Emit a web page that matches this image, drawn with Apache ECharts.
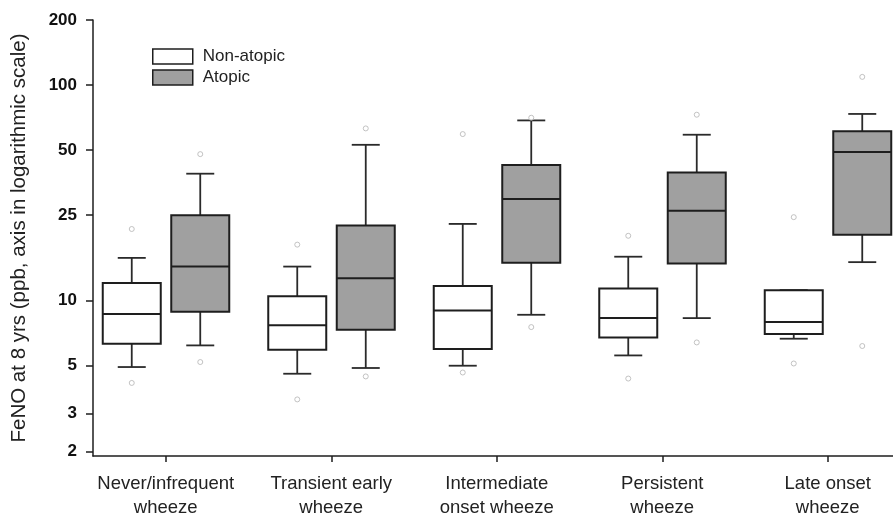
<!DOCTYPE html>
<html>
<head>
<meta charset="utf-8">
<script src="https://cdn.jsdelivr.net/npm/echarts@6/dist/echarts.min.js"></script>
<style>
  html, body { margin: 0; padding: 0; background: #fff; }
  #main { width: 893px; height: 515px; }
</style>
</head>
<body>
<div id="main"></div>
<script>
var categories = [
  'Never/infrequent\nwheeze',
  'Transient early\nwheeze',
  'Intermediate\nonset wheeze',
  'Persistent\nwheeze',
  'Late onset\nwheeze'
];
var yTicks = [2, 3, 5, 10, 25, 50, 100, 200];

// [lower whisker, q1, median, q3, upper whisker]
var nonAtopicBoxes = [
  [4.93, 6.32, 8.68, 12.1, 15.8],
  [4.59, 5.93, 7.69, 10.5, 14.4],
  [5.00, 5.97, 9.02, 11.7, 22.7],
  [5.58, 6.76, 8.31, 11.4, 16.0],
  [6.67, 7.01, 7.97, 11.2, 11.2]
];
var atopicBoxes = [
  [6.21, 8.89, 14.4, 24.9, 38.8],
  [4.88, 7.34, 12.7, 22.3, 52.8],
  [8.61, 15.0, 29.6, 42.6, 68.5],
  [8.31, 14.9, 26.1, 39.3, 58.8],
  [15.1, 20.2, 48.9, 61.0, 73.4]
];
// [category index, value]
var nonAtopicOutliers = [
  [0, 21.5], [0, 4.16], [1, 18.2], [1, 3.49], [2, 59.2],
  [2, 4.65], [3, 20.0], [3, 4.36], [4, 24.4], [4, 5.12]
];
var atopicOutliers = [
  [0, 47.8], [0, 5.20], [1, 62.9], [1, 4.46], [2, 70.5],
  [2, 7.55], [3, 72.8], [3, 6.41], [4, 109], [4, 6.17]
];

var font = 'Arial, "Liberation Sans", sans-serif';
var ink = '#1e1e1e';

function boxRenderer(offset, fill) {
  return function (params, api) {
    var c = api.value(0);
    var x = api.coord([c, api.value(3)])[0] + offset;
    var lo = api.coord([c, api.value(1)])[1];
    var q1 = api.coord([c, api.value(2)])[1];
    var med = api.coord([c, api.value(3)])[1];
    var q3 = api.coord([c, api.value(4)])[1];
    var hi = api.coord([c, api.value(5)])[1];
    var half = 29, cap = 14;
    var ws = { stroke: '#2a2a2a', lineWidth: 1.8 };
    return {
      type: 'group',
      children: [
        { type: 'line', shape: { x1: x, y1: hi, x2: x, y2: q3 }, style: ws },
        { type: 'line', shape: { x1: x, y1: q1, x2: x, y2: lo }, style: ws },
        { type: 'line', shape: { x1: x - cap, y1: hi, x2: x + cap, y2: hi }, style: ws },
        { type: 'line', shape: { x1: x - cap, y1: lo, x2: x + cap, y2: lo }, style: ws },
        { type: 'rect', shape: { x: x - half, y: q3, width: half * 2, height: q1 - q3 },
          style: { fill: fill, stroke: ink, lineWidth: 2 } },
        { type: 'line', shape: { x1: x - half, y1: med, x2: x + half, y2: med },
          style: { stroke: ink, lineWidth: 2 } }
      ]
    };
  };
}

function withIndex(boxes) {
  return boxes.map(function (b, i) { return [i].concat(b); });
}

var chart = echarts.init(document.getElementById('main'));
var option = {
  animation: false,
  backgroundColor: '#fff',
  textStyle: { fontFamily: font },
  legend: {
    orient: 'vertical',
    left: 147,
    top: 43,
    itemWidth: 40,
    itemHeight: 15,
    itemGap: 4,
    textStyle: { fontSize: 17, color: '#222', padding: [0, 0, 0, 5] },
    data: [
      { name: 'Non-atopic', icon: 'rect', itemStyle: { color: '#fff', borderColor: ink, borderWidth: 1.5 } },
      { name: 'Atopic', icon: 'rect', itemStyle: { color: '#a0a0a0', borderColor: ink, borderWidth: 1.5 } }
    ]
  },
  grid: [
    { left: 93, right: 0, top: 20, bottom: 59, outerBoundsMode: 'none' },
    { left: 83, width: 827.5, top: 20, bottom: 59, outerBoundsMode: 'none' }
  ],
  xAxis: [
    {
      gridIndex: 0, type: 'value', min: 0, max: 1,
      axisLine: { lineStyle: { color: ink, width: 1.5 } },
      axisTick: { show: false }, axisLabel: { show: false }, splitLine: { show: false }
    },
    {
      gridIndex: 1, type: 'category', data: categories,
      axisLine: { show: false },
      axisTick: { show: true, alignWithLabel: true, length: 6, lineStyle: { color: ink, width: 1.5 } },
      axisLabel: { interval: 0, margin: 16, fontSize: 18.5, lineHeight: 24, color: '#222' },
      splitLine: { show: false }
    }
  ],
  yAxis: [
    {
      gridIndex: 0, type: 'log', min: 1.908, max: 200,
      name: 'FeNO at 8 yrs (ppb, axis in logarithmic scale)',
      nameLocation: 'middle', nameGap: 63,
      nameTextStyle: { fontSize: 20.5, color: '#222' },
      axisLine: { show: true, lineStyle: { color: ink, width: 1.5 } },
      axisTick: { show: true, length: 7, customValues: yTicks, lineStyle: { color: ink, width: 1.5 } },
      axisLabel: { customValues: yTicks, margin: 16, fontSize: 17, fontWeight: 'bold', color: '#111' },
      splitLine: { show: false }
    },
    {
      gridIndex: 1, type: 'log', min: 1.908, max: 200, show: false,
      splitLine: { show: false }
    }
  ],
  series: [
    {
      name: 'Non-atopic', type: 'custom', xAxisIndex: 1, yAxisIndex: 1,
      renderItem: boxRenderer(-34, '#fff'),
      encode: { x: 0, y: [1, 2, 3, 4, 5] },
      itemStyle: { color: '#fff' },
      data: withIndex(nonAtopicBoxes)
    },
    {
      name: 'Atopic', type: 'custom', xAxisIndex: 1, yAxisIndex: 1,
      renderItem: boxRenderer(34.5, '#a0a0a0'),
      encode: { x: 0, y: [1, 2, 3, 4, 5] },
      itemStyle: { color: '#a0a0a0' },
      data: withIndex(atopicBoxes)
    },
    {
      name: 'Non-atopic outliers', type: 'scatter', xAxisIndex: 1, yAxisIndex: 1,
      symbol: 'circle', symbolSize: 5, symbolOffset: [-34, 0],
      itemStyle: { color: '#fff', borderColor: '#b4b4b4', borderWidth: 1 },
      data: nonAtopicOutliers
    },
    {
      name: 'Atopic outliers', type: 'scatter', xAxisIndex: 1, yAxisIndex: 1,
      symbol: 'circle', symbolSize: 5, symbolOffset: [34.5, 0],
      itemStyle: { color: '#fff', borderColor: '#b4b4b4', borderWidth: 1 },
      data: atopicOutliers
    }
  ]
};
chart.setOption(option);
</script>
</body>
</html>
